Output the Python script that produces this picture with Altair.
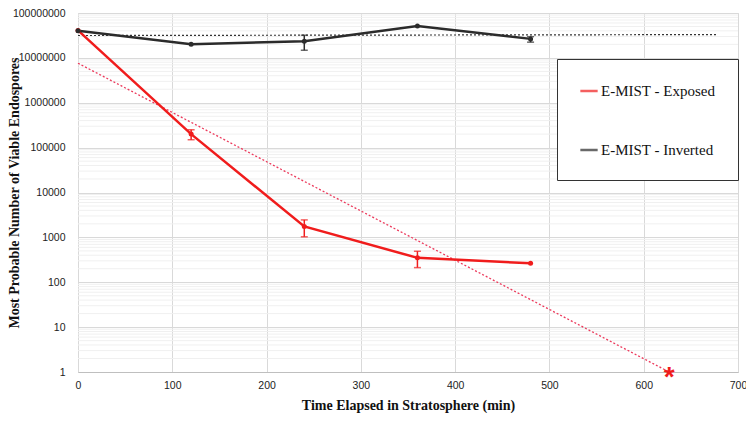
import altair as alt
import pandas as pd

# ---- data ----
time_min = [0, 120, 240, 360, 480]
exposed_mpn = [4.1e7, 2.0e5, 1750, 350, 265]
exposed_lo = [None, 1.5e5, 1030, 212, None]
exposed_hi = [None, 2.5e5, 2450, 490, None]
inverted_mpn = [4.0e7, 2.0e7, 2.35e7, 5.1e7, 2.65e7]
inverted_lo = [None, None, 1.48e7, None, 2.24e7]
inverted_hi = [None, None, 3.2e7, None, 2.97e7]

series_names = ["E-MIST - Exposed", "E-MIST - Inverted"]
series_colors = ["#f01c1c", "#2b2b2b"]

trend_exposed_x = [0, 627]
trend_exposed_y = [7.6e6, 1]
trend_inverted_x = [0, 678]
trend_inverted_y = [3.15e7, 3.3e7]

asterisk_x = [627]
asterisk_y = [1]

x_ticks = [0, 100, 200, 300, 400, 500, 600, 700]
y_ticks = [1, 10, 100, 1000, 10000, 100000, 1000000, 10000000, 100000000]
minor_mult = [2, 3, 4, 5, 6, 7, 8, 9]
minor_grid = [m * d for d in y_ticks[:-1] for m in minor_mult]

x_title = "Time Elapsed in Stratosphere  (min)"
y_title = "Most Probable Number of Viable Endospores"

# ---- tables ----
rows = []
for i, t in enumerate(time_min):
    rows.append({"t": t, "v": exposed_mpn[i], "lo": exposed_lo[i], "hi": exposed_hi[i], "s": series_names[0]})
    rows.append({"t": t, "v": inverted_mpn[i], "lo": inverted_lo[i], "hi": inverted_hi[i], "s": series_names[1]})
df = pd.DataFrame(rows)
df_err = df.dropna(subset=["lo", "hi"])

df_te = pd.DataFrame({"t": trend_exposed_x, "v": trend_exposed_y})
df_ti = pd.DataFrame({"t": trend_inverted_x, "v": trend_inverted_y})
df_ast = pd.DataFrame({"t": asterisk_x, "v": asterisk_y, "txt": ["*"]})
df_minor = pd.DataFrame({"v": minor_grid})

xscale = alt.Scale(domain=[0, 700], nice=False)
yscale = alt.Scale(type="log", domain=[1, 1e8], nice=False)

tick_font = "Liberation Sans Narrow, Liberation Sans"

xaxis = alt.Axis(values=x_ticks, title=x_title,
                 titleFont="Liberation Serif", titleFontSize=14, titleFontWeight="bold",
                 titlePadding=8, titleColor="#111111", labelFont=tick_font, labelFontSize=10.5,
                 labelColor="#222222", labelPadding=8, labelFlush=False,
                 grid=True, gridColor="#d9d9d9", ticks=False, domainColor="#bfbfbf")
yaxis = alt.Axis(values=y_ticks, format="d", title=y_title,
                 titleFont="Liberation Serif", titleFontSize=14, titleFontWeight="bold",
                 titlePadding=-9, titleColor="#111111", labelFont=tick_font, labelFontSize=10.5,
                 labelColor="#222222", labelPadding=13,
                 grid=True, gridColor="#d9d9d9", ticks=False, domain=False)

legend = alt.Legend(title=None, orient="none", legendX=479, legendY=46,
                    strokeColor="#333333", padding=22, rowPadding=41,
                    labelFont="Liberation Serif", labelFontSize=15,
                    labelColor="#111111", symbolType="stroke",
                    symbolStrokeWidth=2.5, symbolSize=300,
                    fillColor="white", labelOffset=2)
color = alt.Color("s:N", scale=alt.Scale(domain=series_names, range=series_colors), legend=legend)

minor = alt.Chart(df_minor).mark_rule(color="#f0f0f0", strokeWidth=1).encode(
    y=alt.Y("v:Q", scale=yscale, axis=yaxis))

trend_e = alt.Chart(df_te).mark_line(color="#ec3a5c", strokeWidth=1.3, strokeDash=[2, 2]).encode(
    x=alt.X("t:Q", scale=xscale, axis=xaxis), y=alt.Y("v:Q", scale=yscale, axis=yaxis))
trend_i = alt.Chart(df_ti).mark_line(color="#333333", strokeWidth=1.2, strokeDash=[2, 2]).encode(
    x=alt.X("t:Q", scale=xscale, axis=xaxis), y=alt.Y("v:Q", scale=yscale, axis=yaxis))

lines = alt.Chart(df).mark_line(strokeWidth=2.5, point=alt.OverlayMarkDef(size=25, filled=True)).encode(
    x=alt.X("t:Q", scale=xscale, axis=xaxis), y=alt.Y("v:Q", scale=yscale, axis=yaxis), color=color)

errs = alt.Chart(df_err).mark_errorbar(ticks=alt.MarkConfig(size=7), thickness=1.5).encode(
    x=alt.X("t:Q", scale=xscale, axis=xaxis),
    y=alt.Y("lo:Q", scale=yscale, axis=yaxis),
    y2="hi:Q",
    color=color)

ast = alt.Chart(df_ast).mark_text(color="#f01c1c", fontSize=28, font="Liberation Sans",
                                   fontWeight="bold", baseline="middle", dy=6).encode(
    x=alt.X("t:Q", scale=xscale, axis=xaxis), y=alt.Y("v:Q", scale=yscale, axis=yaxis), text="txt:N")

chart = alt.layer(minor, trend_i, trend_e, errs, lines, ast).properties(
    width=660, height=359,
    autosize=alt.AutoSizeParams(type="none"),
    padding={"left": 70, "top": 5, "right": 8, "bottom": 41},
).configure_view(stroke=None).configure(background="white")

chart.save("out.html", embed_options={"renderer": "svg", "actions": False})
